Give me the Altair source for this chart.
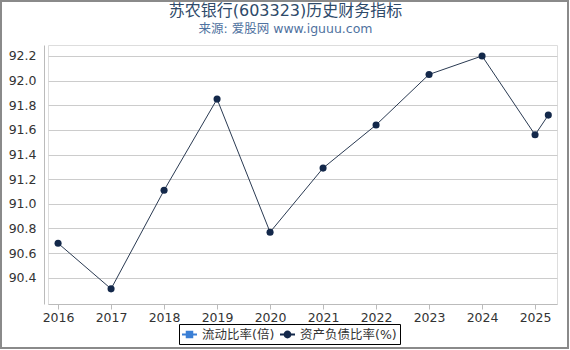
import altair as alt
import pandas as pd

# ---- data ----
periods = [2016, 2017, 2018, 2019, 2020, 2021, 2022, 2023, 2024, 2025, 2025.25]
debt_ratio = [90.68, 90.31, 91.11, 91.85, 90.77, 91.29, 91.64, 92.05, 92.20, 91.56, 91.72]
series_names = ["流动比率(倍)", "资产负债比率(%)"]
year_ticks = [2016, 2017, 2018, 2019, 2020, 2021, 2022, 2023, 2024, 2025]
y_ticks = [90.4, 90.6, 90.8, 91.0, 91.2, 91.4, 91.6, 91.8, 92.0, 92.2]

df = pd.DataFrame({"period": periods, "value": debt_ratio,
                   "series": [series_names[1]] * len(periods)})

FONT = "DejaVu Sans, Noto Sans CJK SC, sans-serif"
DARK = "#13284a"
LINE = "#2a3a52"

x_enc = alt.X("period:Q",
              scale=alt.Scale(domain=[2015.81, 2025.414], nice=False, zero=False),
              axis=alt.Axis(values=year_ticks, format="d", title=None, grid=False,
                            domainColor="#bbbbbb", tickColor="#bbbbbb", tickSize=5,
                            labelPadding=2, labelFontSize=12.5, labelColor="#333333",
                            labelFont=FONT))
y_enc = alt.Y("value:Q",
              scale=alt.Scale(domain=[90.187, 92.289], nice=False, zero=False),
              axis=alt.Axis(values=y_ticks, format=".1f", title=None, offset=4,
                            ticks=False, domainColor="#bbbbbb", gridColor="#cccccc",
                            labelPadding=8, labelFontSize=12.5, labelColor="#333333",
                            labelFont=FONT))

base = alt.Chart(df)

border = base.mark_rect(fill=None, stroke="#8a8a8a", strokeWidth=2).encode(
    x=alt.value(-47), x2=alt.value(520), y=alt.value(-44), y2=alt.value(303)
)

line = base.mark_line(color=LINE, strokeWidth=1).encode(x=x_enc, y=y_enc)
points = base.mark_circle(size=50, color=DARK, opacity=1).encode(x=x_enc, y=y_enc)

sq_path = "M-1,-0.13H1V0.13H-1Z M-0.5,-0.5H0.5V0.5H-0.5Z"
ci_path = ("M-1,-0.13H1V0.13H-1Z "
           "M0.52,0 A0.52,0.52 0 1,1 -0.52,0 A0.52,0.52 0 1,1 0.52,0 Z")

legend_layer = base.mark_point(filled=True, opacity=0).encode(
    x=x_enc, y=y_enc,
    color=alt.Color("series:N",
                    scale=alt.Scale(domain=series_names, range=["#3a7fd5", DARK]),
                    legend=alt.Legend(title=None, orient="none", direction="horizontal",
                                      legendX=131, legendY=279, padding=3,
                                      strokeColor="#000000", symbolSize=225,
                                      symbolOpacity=1, symbolStrokeWidth=0,
                                      labelFontSize=12.5, labelColor="#333333",
                                      labelFont=FONT, columnPadding=5,
                                      labelOffset=5)),
    shape=alt.Shape("series:N",
                    scale=alt.Scale(domain=series_names, range=[sq_path, ci_path]),
                    legend=None),
)

chart = alt.layer(border, line, points, legend_layer).properties(
    width=509, height=259,
    title=alt.TitleParams(text="苏农银行(603323)历史财务指标",
                          subtitle="来源: 爱股网 www.iguuu.com",
                          anchor="middle", frame="group", dx=-17, offset=-35,
                          fontSize=16, fontWeight="normal", color="#2e4a6a", font=FONT,
                          subtitleFontSize=12.5, subtitleColor="#4f72a0",
                          subtitleFont=FONT, subtitlePadding=4),
    autosize=alt.AutoSizeParams(type="none"),
    padding={"left": 48, "top": 45, "right": 13, "bottom": 46},
).configure_view(stroke=None).configure(font=FONT, background="white")

chart.save("out.html", embed_options={"renderer": "svg", "actions": False})
